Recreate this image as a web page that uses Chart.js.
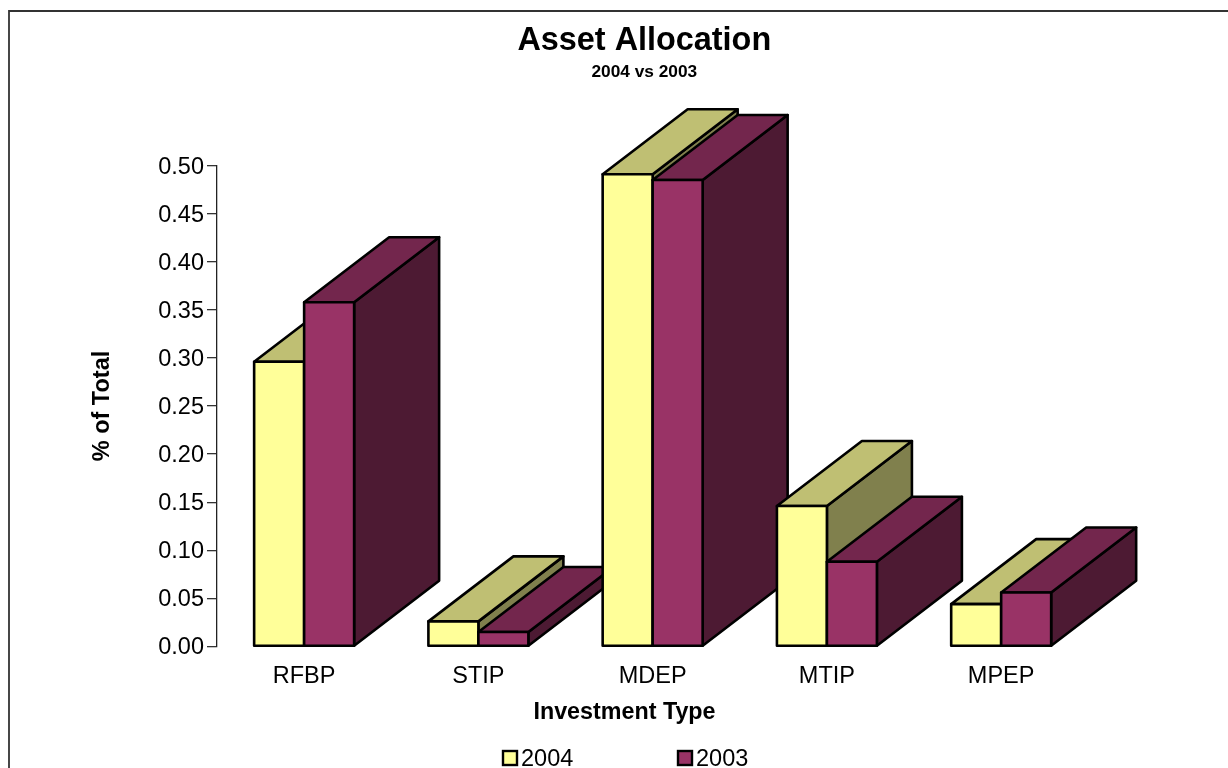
<!DOCTYPE html>
<html>
<head>
<meta charset="utf-8">
<style>html,body{margin:0;padding:0;background:#fff;overflow:hidden}canvas{display:block}</style>
<script src="https://cdn.jsdelivr.net/npm/chart.js@4/dist/chart.umd.min.js"></script>
</head>
<body>
<canvas id="c" width="1228" height="768"></canvas>
<script>
const categories = ['RFBP', 'STIP', 'MDEP', 'MTIP', 'MPEP'];
const values2004 = [0.296, 0.026, 0.491, 0.146, 0.044];
const values2003 = [0.358, 0.015, 0.485, 0.088, 0.056];
const yTicks = ['0.00','0.05','0.10','0.15','0.20','0.25','0.30','0.35','0.40','0.45','0.50'];
const chartTitle = 'Asset Allocation';
const chartSubtitle = '2004 vs 2003';
const xTitle = 'Investment Type';
const yTitle = '% of Total';

const FONT = '"Liberation Sans", Arial, sans-serif';
const FS = 23.5;
const DX = 85, DY = 65;
const shades = {
  s2004: {front:'#FFFF99', top:'#BFBF73', side:'#80804D'},
  s2003: {front:'#993366', top:'#73264D', side:'#4D1A33'}
};
const shadeList = [shades.s2004, shades.s2003];

function poly(ctx, pts, fill) {
  ctx.beginPath();
  pts.forEach((p,i)=> i ? ctx.lineTo(p[0],p[1]) : ctx.moveTo(p[0],p[1]));
  ctx.closePath();
  ctx.fillStyle = fill;
  ctx.fill();
  ctx.stroke();
}

const bars3d = {
  id: 'bars3d',
  afterLayout(chart) {
    chart.boxes.forEach(b => {
      if (b.options && (b.options.text === chartTitle || b.options.text === chartSubtitle)) {
        const c = (b.left + b.right) / 2;
        b.left += 644.3 - c; b.right += 644.3 - c;
      }
    });
  },
  beforeDatasetsDraw(chart) {
    const ctx = chart.ctx;
    ctx.save();
    ctx.strokeStyle = '#000';
    ctx.lineWidth = 2.6;
    ctx.lineJoin = 'round';
    categories.forEach((_, i) => {
      chart.data.datasets.forEach((ds, d) => {
        const el = chart.getDatasetMeta(d).data[i];
        const p = el.getProps(['x','y','base','width'], true);
        const l = p.x - p.width/2, r = p.x + p.width/2, t = p.y, b = p.base;
        const s = shadeList[d];
        poly(ctx, [[r,t],[r+DX,t-DY],[r+DX,b-DY],[r,b]], s.side);
        poly(ctx, [[l,t],[l+DX,t-DY],[r+DX,t-DY],[r,t]], s.top);
        poly(ctx, [[l,t],[r,t],[r,b],[l,b]], s.front);
      });
    });
    ctx.restore();
    return false;
  },
  afterDraw(chart) {
    const ctx = chart.ctx;
    ctx.save();
    ctx.strokeStyle = '#333';
    ctx.lineWidth = 1.8;
    ctx.beginPath();
    ctx.moveTo(9, 768); ctx.lineTo(9, 11); ctx.lineTo(1228, 11);
    ctx.stroke();
    ctx.fillStyle = '#000';
    ctx.font = 'bold 23.3px ' + FONT;
    ctx.textAlign = 'center';
    ctx.textBaseline = 'middle';
    ctx.fillText(xTitle, 624.5, 713);
    const items = [[503, 0], [678, 1]];
    ctx.font = FS + 'px ' + FONT;
    ctx.textAlign = 'left';
    items.forEach(([x, d]) => {
      ctx.fillStyle = chart.data.datasets[d].backgroundColor;
      ctx.strokeStyle = '#000';
      ctx.lineWidth = 2.4;
      ctx.fillRect(x, 751, 14, 14);
      ctx.strokeRect(x, 751, 14, 14);
      ctx.fillStyle = '#000';
      ctx.fillText(chart.data.datasets[d].label, x + 18, 759.5);
    });
    ctx.restore();
  }
};

new Chart(document.getElementById('c'), {
  type: 'bar',
  data: {
    labels: categories,
    datasets: [
      {label:'2004', data: values2004, backgroundColor: shades.s2004.front},
      {label:'2003', data: values2003, backgroundColor: shades.s2003.front}
    ]
  },
  plugins: [bars3d],
  options: {
    responsive: false,
    animation: false,
    layout: {padding: {left: 60, right: 139.7, top: 22, bottom: 61.4}},
    datasets: {bar: {categoryPercentage: 100/174.3, barPercentage: 1}},
    plugins: {
      legend: {display: false},
      tooltip: {enabled: false},
      title: {display: true, text: chartTitle, color:'#000',
        font: {family: FONT, size: 32.4, weight:'bold', lineHeight: 1.2},
        padding: {top: 0, bottom: 0}},
      subtitle: {display: true, text: chartSubtitle, color:'#000',
        font: {family: FONT, size: 17.3, weight:'bold', lineHeight: 1.2},
        padding: {top: 1, bottom: 83}}
    },
    scales: {
      x: {
        grid: {display:false, drawTicks:false},
        border: {display:false},
        ticks: {color:'#000', padding: 16, maxRotation:0, autoSkip:false,
          font: {family: FONT, size: FS, lineHeight: 1.2}}
      },
      y: {
        min: 0, max: 0.5,
        afterBuildTicks(scale) { scale.ticks = yTicks.map(v => ({value: +v})); },
        afterFit(scale) { scale.width = 157; },
        grid: {drawOnChartArea:false, drawTicks:true, tickLength:10, color:'#333', lineWidth:1.3},
        border: {color:'#222', width:1.3},
        ticks: {color:'#000', padding: 3, autoSkip:false, labelOffset: 1.5,
          callback: v => Number(v).toFixed(2),
          font: {family: FONT, size: FS, lineHeight: 1.2}},
        title: {display:true, text: yTitle, color:'#000',
          padding: {top: 28, bottom: 0},
          font: {family: FONT, size: 23.5, weight:'bold', lineHeight: 1.2}}
      }
    }
  }
});
</script>
</body>
</html>
